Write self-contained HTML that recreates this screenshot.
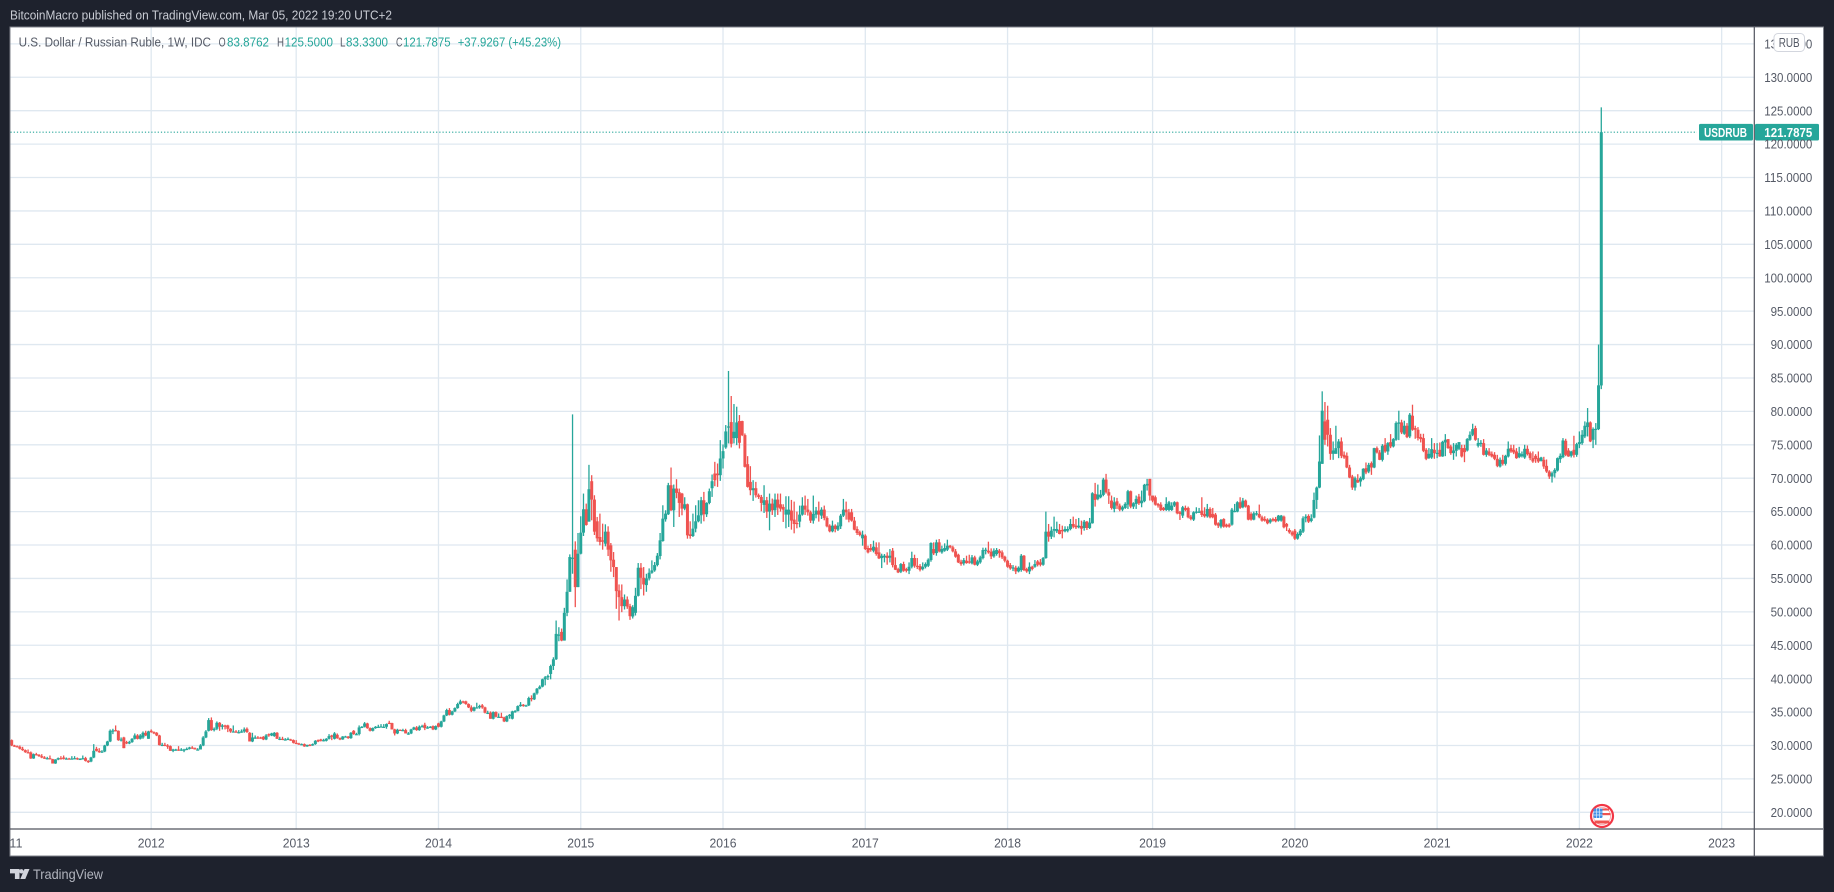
<!DOCTYPE html>
<html lang="en">
<head>
<meta charset="utf-8">
<title>U.S. Dollar / Russian Ruble, 1W</title>
<style>
html,body{margin:0;padding:0;width:1834px;height:892px;overflow:hidden;background:#1e222d}
svg{display:block}
text{font-family:"Liberation Sans",sans-serif}
</style>
</head>
<body>
<svg id="chart" width="1834" height="892" viewBox="0 0 1834 892" xmlns="http://www.w3.org/2000/svg">
  <defs>
    <clipPath id="plot-clip"><rect x="10.5" y="27.5" width="1743.5" height="801"/></clipPath>
    <clipPath id="time-clip"><rect x="10.5" y="830" width="1743.5" height="25"/></clipPath>
  </defs>
  <rect x="0" y="0" width="1834" height="892" fill="#1e222d"/>
  <text x="10" y="19.5" font-size="13" fill="#c9ccd4" textLength="382" lengthAdjust="spacingAndGlyphs">BitcoinMacro published on TradingView.com, Mar 05, 2022 19:20 UTC+2</text>
  <rect x="10" y="27" width="1813.5" height="829" fill="#ffffff" stroke="#7d8089" stroke-width="1"/>
  <g id="grid"></g>
  <g id="candles" clip-path="url(#plot-clip)"></g>
  <g id="last-price"></g>
  <line x1="1754.3" y1="27" x2="1754.3" y2="856" stroke="#50535e" stroke-width="1.2"/>
  <line x1="10" y1="829" x2="1823" y2="829" stroke="#50535e" stroke-width="1.2"/>
  <g id="y-axis"></g>
  <g id="x-axis" clip-path="url(#time-clip)"></g>

  <g font-size="13">
    <text x="18.6" y="46.3" fill="#555a66" textLength="192.4" lengthAdjust="spacingAndGlyphs">U.S. Dollar / Russian Ruble, 1W, IDC</text>
    <text x="218.6" y="46.3" fill="#555a66" textLength="7" lengthAdjust="spacingAndGlyphs">O</text>
    <text x="227" y="46.3" fill="#26a69a" textLength="42" lengthAdjust="spacingAndGlyphs">83.8762</text>
    <text x="277" y="46.3" fill="#555a66" textLength="7" lengthAdjust="spacingAndGlyphs">H</text>
    <text x="284.6" y="46.3" fill="#26a69a" textLength="48.4" lengthAdjust="spacingAndGlyphs">125.5000</text>
    <text x="340" y="46.3" fill="#555a66" textLength="5.5" lengthAdjust="spacingAndGlyphs">L</text>
    <text x="346" y="46.3" fill="#26a69a" textLength="42" lengthAdjust="spacingAndGlyphs">83.3300</text>
    <text x="396" y="46.3" fill="#555a66" textLength="6.5" lengthAdjust="spacingAndGlyphs">C</text>
    <text x="403" y="46.3" fill="#26a69a" textLength="47.6" lengthAdjust="spacingAndGlyphs">121.7875</text>
    <text x="457.7" y="46.3" fill="#26a69a" textLength="103.3" lengthAdjust="spacingAndGlyphs">+37.9267 (+45.23%)</text>
  </g>

  <g>
    <rect x="1774" y="33.5" width="30.5" height="18" rx="4" fill="#ffffff" stroke="#d3d6de" stroke-width="1"/>
    <text x="1789.2" y="47" font-size="12.5" fill="#555a66" text-anchor="middle" textLength="21" lengthAdjust="spacingAndGlyphs">RUB</text>
  </g>

  <g>
    <circle cx="1602" cy="816" r="11" fill="#ffffff" stroke="#f23645" stroke-width="2.2"/>
    <circle cx="1602" cy="816" r="8.6" fill="#ffffff" stroke="#f7a3aa" stroke-width="0.8"/>
    <rect x="1602" y="808.5" width="7" height="2" fill="#ef5350"/>
    <rect x="1602" y="813" width="8.5" height="2.2" fill="#ef5350"/>
    <rect x="1594.5" y="820.5" width="15" height="3" rx="1.4" fill="#ef5350"/>
    <rect x="1593.5" y="808.5" width="9" height="9.5" rx="1.2" fill="#3f8fe6"/>
    <path d="M1596.5 808.5v9.5M1599.5 808.5v9.5M1593.5 812h9M1593.5 815h9" stroke="#d7e8fb" stroke-width="0.7" fill="none"/>
  </g>

  <g>
    <path d="M10 869h9.5v10h-4.6v-5.6h-4.9z" fill="#d1d4dc"/>
    <circle cx="21.4" cy="871.3" r="2.2" fill="#d1d4dc"/>
    <path d="M24.5 869h5l-4.2 10h-5z" fill="#d1d4dc"/>
    <text x="33" y="879" font-size="14" fill="#b2b5be" textLength="70" lengthAdjust="spacingAndGlyphs">TradingView</text>
  </g>
</svg>

<script>
const opens = [
30.8,30,29.9,29.8,29.5,29.3,29,28.95,28.05,28.7,28.6,28.4,28.2,28.05,28.1,27.95,27.3,27.9,28.1,28.2,28,28.05,28,28.05,28.1,27.95,28,28.1,27.7,27.6,28.2,29.5,29.2,29,29.1,30,30.6,32.2,32.3,32.2,30.8,31.2,30.5,30.3,30.5,31,31.5,31,31.2,31.9,31,
32.2,32,31.9,31.5,30.05,30.1,30,29.9,29.2,29.4,29.4,29.3,29.4,29.4,29.5,29.7,29.6,29.4,29.4,30,31.2,32.2,33.8,32.3,32.5,33.4,32.8,33,33,32.5,32.1,32.1,32,32,32.1,32.5,31.9,30.6,31.2,31.2,31.2,31.3,30.9,31.7,31.5,31.4,31.9,31,31,30.9,30.9,30.9,30.8,
30.4,30.3,30.2,30.2,29.85,30.1,30,30.2,30.8,30.9,30.7,30.7,31,31.5,31,31.6,31.1,30.9,31.3,31.35,31.1,32.2,31.7,31.7,32.7,32.8,33.3,32.6,32.2,32.6,32.8,32.8,32.8,32.8,33.4,33.35,32.4,31.8,32.35,32.3,32.3,31.8,31.8,32.4,32.7,32.3,32.8,33.1,32.6,32.7,32.9,32.4,
33.3,32.8,33.6,34.5,35.3,34.6,35.1,35.6,36.2,36.6,36.6,36.2,35.7,35.2,35.7,35.7,36,35.7,34.9,34.9,34,35,34.3,34.3,34.2,33.6,34.4,34,35.1,35.15,35.9,36.1,35.95,36,37.1,36.9,37.8,38.5,38.8,39.9,40.2,40.7,41.9,42.9,46.5,47,45.7,49.85,53,58,59.3,53.7,
58.7,61.85,65.35,63.5,69.55,66.8,63.55,61.2,60.7,60.2,62,59.95,57.8,56.7,53.2,52.2,50.85,51.85,50.85,49.3,49.85,52.4,56.6,55.1,54,55,55.85,56.2,57,58.35,60.6,63.85,64.6,68.95,65.2,68.45,67.9,67.7,65.45,66.1,61.6,61.35,62.45,63.55,64.45,66.7,64.6,66.3,68.5,70.7,70.7,70.45,
72.95,74.6,77.7,78.4,76,76,78.55,78.55,76.45,72.1,69.45,68.2,68.5,67.45,67.2,66,66.7,65,66.2,65.2,66.8,66.1,65.7,64.55,64.55,65.15,63.8,63.3,63.5,64.55,65.9,65.3,64.9,63.65,64.55,65.15,64.4,65.3,64.05,62.9,62.05,62.9,62.3,62.8,64.4,65.3,64.9,64.9,63.65,62.4,61.9,61,
61.4,59.55,59.55,59.15,59.65,58.9,58.05,58.15,58.4,58.1,59.15,57,56.4,56,57.15,56.4,56.15,56.75,58.05,56.9,56.85,56.4,56.75,56.9,57.75,59.4,58.8,60.4,58.9,59.15,59.3,59.9,59.65,59.05,58.55,57.5,57.25,57.65,57.55,57.25,58.15,57.05,57.4,58.05,59.25,59.15,59,58.3,58.65,59.15,58.9,58.25,
57.65,57,56.5,56.6,56.05,56.25,58.4,56.4,56.05,56.75,56.75,57.55,57.4,57.05,58.05,62,61.25,62.15,62.05,62.25,62.25,62.05,62.15,62.4,63.15,62.9,62.65,62.85,62.55,63.5,62.55,63.25,67.65,66.9,67.15,67.5,69.8,67.9,66.65,65.4,66.55,65.9,65.3,65.55,66.05,68.05,65.75,66.15,67.25,66.25,66.55,68.9,69.9,
67.4,67.15,66.15,66.05,65.55,65.25,65.25,65.25,65.9,66.4,64.9,64.4,65.55,65.55,64.25,63.8,64.9,65,65.15,64.65,64.3,65.4,64.65,64.55,63.25,62.75,63.9,63.05,63.05,63.05,65,65,66.4,65.65,66.65,65.9,64.65,63.8,64.6,64.65,64.15,63.9,63.8,63.4,63.9,63.9,63.65,63.65,64.25,63.15,62.25,61.9,
62.15,60.95,61.5,62,64,64.35,63.6,64.1,66.75,68.6,72.15,78.5,78.75,76.5,73.65,73.65,74.5,75.5,73.5,73.35,71.6,70.25,68.6,69.75,69.5,69.85,71.5,71,72.25,71.6,74.5,73.85,72.75,75,74,75.4,74.75,75.75,78.15,78.35,76.65,77.85,76.25,79.35,77.5,77.25,76.15,76,74.25,73,73.1,74.25,
73.75,74.25,73.25,75.35,75.85,74.75,73.75,74.1,74.4,74.5,74.5,74.15,75.75,76.5,77.5,74.85,75.25,75.25,73.5,74,73.65,73.5,72.9,71.75,72.75,72.15,73.25,74.5,74.25,74,73.15,73.3,73.1,74.4,73.75,73,73.35,73,72.6,72.75,71.85,71,70.25,70.75,71.15,72.85,73.15,75.6,74.15,73.35,74.25,73.5,
75.1,75.25,76.25,77.65,78.35,75.75,77.35,77.35,83.88];

const highs = [
30.9,30.1,30,30,29.8,29.4,29.4,29.1,28.8,28.9,28.7,28.7,28.4,28.3,28.5,28,27.95,28.2,28.4,28.5,28.2,28.15,28.4,28.4,28.2,28.1,28.5,28.3,27.8,28.3,30.2,29.8,29.6,29.3,30.1,30.7,32.4,32.5,33,32.25,31.2,31.3,30.7,30.7,31.1,31.8,31.7,31.7,32.1,32.2,32.2,
32.4,32.1,32,31.6,30.4,30.4,30.2,30,29.5,29.5,29.9,29.6,29.5,29.7,29.8,29.9,29.7,29.6,30.2,31.4,32.3,34.1,34.2,32.7,33.6,33.5,33.2,33.1,33.1,32.6,33,32.3,32.3,32.4,32.7,32.7,32,31.9,31.5,31.4,31.3,31.4,31.7,31.8,31.9,32,32,31.3,31.3,31.1,31.2,31,30.9,
30.8,30.4,30.3,30.3,30.1,30.2,30.3,30.8,30.9,31,31,31.1,31.7,31.6,32,31.8,31.2,31.4,31.45,31.4,32,32.3,31.9,33,32.9,33.5,33.4,32.7,32.7,32.9,33.1,33.2,33.2,33.3,33.7,33.4,32.5,32.5,32.4,32.5,32.5,32,32.5,32.8,32.9,33,33.1,33.4,32.9,32.9,33,33,
33.4,33.7,34.6,35.5,35.6,35.2,35.7,36.4,36.85,36.7,36.7,36.3,36,35.8,36.4,36.1,36.2,35.8,35.2,35.1,35.1,35.1,34.8,34.9,34.3,34.5,34.7,35.2,35.3,36,36.5,36.2,36.1,37.3,37.5,37.9,38.6,39,40,40.4,40.6,42.1,43.2,48.7,47.7,47.5,50.6,54.85,58.6,79.55,60.55,61.8,
64.3,67.7,66.2,72,70.45,67.45,64.2,64.7,63.2,63.1,62.8,60.3,58.95,56.7,54.1,54.1,52.6,52.3,51.2,51,53.6,57.3,57.3,56.7,55.7,56.5,57.7,57.45,58.8,61.8,65.95,65.2,69.3,71.6,69.05,69.85,68.45,67.8,67.15,66.2,63.55,64.7,65.95,66.7,67.2,67.95,66.4,68.45,70.55,72.45,72.2,75.7,
75.05,77.95,86.05,82.3,81.1,80.7,79.45,78.6,76.7,73.3,71.8,69.7,69.45,67.7,67.5,68.95,67.2,67.7,66.95,67.7,67.7,67.7,66.1,67.3,67.3,66.75,66.5,65,65.9,67.15,67.4,66.9,65.15,67.4,65.7,66.5,65.65,65.9,64.3,63.1,63.65,63.1,63.4,64.65,66.9,66.5,65.4,65.4,64.2,62.8,62.15,62.15,
61.6,59.9,60.15,60.65,60.4,60.4,58.7,58.65,58.9,59.4,59.55,58.15,56.6,57.3,57.5,56.6,57.4,59,58.55,58.05,57.15,57.4,57.4,58,60.4,60.4,60.8,60.9,59.9,60.25,60.8,60,59.9,59.4,58.7,57.8,58.05,58.4,58.55,58.5,58.4,57.8,58.4,59.6,59.6,60.5,59.5,59.5,59.55,59.4,59.2,58.4,
57.8,57.3,57,56.9,56.8,58.65,58.5,56.6,57.4,56.9,57.75,57.75,57.9,58.2,65,63.15,62.75,64.25,63.5,63.15,62.9,62.8,62.8,63.9,64.25,63.9,64.05,63.65,63.75,63.6,64.05,67.9,69.3,69.05,68.25,70.05,70.65,68.4,67.4,67.15,67.05,66.2,65.9,66.4,68.25,68.15,66.4,67.4,67.65,68.15,69.15,69.9,69.9,
67.4,67.4,66.3,66.4,65.7,67.15,66.6,66.4,66.55,66.5,65.1,65.85,65.9,65.75,64.5,65.05,65.65,65.55,67.15,65.65,66.15,65.65,65.55,64.8,63.4,63.9,64,63.2,63.25,65.55,66.15,66.55,67.15,67.05,66.8,66,64.9,65,65.1,66.05,64.4,64.3,64,64,64.1,64.2,64.5,64.5,64.4,63.3,62.5,62.15,
62.4,61.9,62.4,64.3,64.6,64.6,64.6,67.85,68.75,76.4,83,81.4,80.85,77.5,75.5,77.85,75.85,76.1,74,73.85,72,70.5,70.25,70.6,70.25,71.5,72.35,72.3,72.5,74.55,74.75,74.2,75.1,76,75.4,76.6,76,78.5,80.1,78.75,78.6,78.25,79.75,81,77.85,77.65,76.65,76.65,74.5,74.5,76,75.25,
75.25,75.35,75.6,76.6,75.85,75,75.25,75.25,75.4,75,75,76,77,78.15,77.85,76,75.7,75.85,74.5,74.5,74,73.9,73.5,73.1,73.5,73.5,75.5,75,75,74.5,74.7,74,75,74.9,74,74,73.6,74,73.2,73.2,72.8,71.2,71,71.5,73.1,73.7,76,75.9,74.5,74.1,76.35,75.3,
77,77.2,78.5,80.5,78.5,77.6,78.25,90,125.5];

const lows = [
29.9,29.8,29.7,29.4,29.2,28.9,28.8,28,28,28.5,28.3,28.1,28,27.9,27.9,27.3,27.25,27.8,27.9,27.9,27.9,27.9,27.9,27.95,27.85,27.85,27.9,27.6,27.4,27.5,28.1,29.1,28.9,28.9,29,29.9,30.5,31.7,32.1,30.7,30.6,29.6,30.2,30.2,30.4,30.9,30.9,30.9,31,31.4,31,
31.9,31.7,31.4,30,29.9,29.9,29.5,29.2,29,29.2,29.2,29.2,29,29.3,29.4,29.5,29.4,29.3,29.4,29.9,31.1,32.1,32.2,32.1,32.3,32.2,32.4,32.4,32,31.9,32,31.9,31.8,31.9,31.9,31.9,30.6,30.5,31,31,31,30.8,30.8,31.3,31.4,31.3,31,30.8,30.8,30.8,30.8,30.7,30.3,
30.2,30.1,30.1,29.8,29.8,29.9,29.95,30.1,30.5,30.6,30.6,30.6,30.9,30.8,30.9,31,30.8,30.85,31.25,31,31,31.6,31.6,31.5,32.6,32.7,32.5,32.1,32.1,32.5,32.7,32.7,32.7,32.5,33.2,32.4,31.5,31.7,32.2,32.2,31.8,31.6,31.7,32.3,32.2,32.2,32.7,32.3,32.5,32.6,32.3,32.3,
32.7,32.7,33.5,34.4,34.5,34.5,35,35.5,36.1,36.3,36.1,35.6,35,35.1,35.6,35.5,35.5,34.8,34.7,34,33.9,34.2,34.2,34.1,33.5,33.5,34,33.9,34.9,35.1,35.8,35.8,35.8,35.9,36.6,36.8,37.6,38.4,38.7,39,39.8,39.9,41.3,42.8,45.6,45.6,45.7,49.35,53,55.7,50.7,53.7,
58.6,61.35,62.9,63.5,63.7,61.5,60.5,59.95,59.3,59.8,58.35,56,55.2,50.45,48.7,49.95,50.35,50.45,48.8,49,49.45,52.3,53.4,52.45,53,54.7,55.7,56,56.8,57.85,60.5,63.5,64.5,65.1,62.7,67,64.2,64.45,65.2,60.95,60.95,61.2,61.9,63.4,63.2,63.55,64.2,66.1,67.2,68.8,68.7,69.6,
71.45,74.4,75.2,74.6,75.2,74.95,74.45,76.3,71.6,68.6,67.45,66.6,67.1,66.9,65.05,64.8,64.05,62.2,64.5,64.2,64.5,65,63.45,62.5,62.7,62.3,61.75,62.5,62.65,64.4,64.5,64.4,63.3,63.2,64,63.5,63.9,63.7,62.65,61.9,61.9,61.9,62.1,62.4,64.2,63.8,63.4,63.5,62.2,61.5,61.3,59.9,
59.25,58.75,59,58.9,58.4,57.9,56.55,57.4,57.05,57.4,56.65,56.25,55.8,55.8,56,55.9,55.65,56.5,56.6,56.4,56.05,56.2,56.5,56.7,57.5,58.5,58.4,58.9,58.7,59,59.1,59.5,58.9,58.1,57.3,56.9,56.95,57.2,57.2,57.1,56.95,56.85,57.2,57.85,58.6,58.7,57.9,58.1,58.4,58.1,57.9,57.4,
56.6,56.3,56.1,55.65,55.9,56,56.1,55.85,55.65,56.2,56.6,56.8,56.8,56.9,57.95,60.5,60.9,61.15,61.8,61.6,61,61.9,61.9,62.2,62.5,62.4,62.5,61.55,62.15,62.25,62.4,63.2,65.75,66.7,67,67.3,67.7,66.15,65.3,64.9,65.4,65.05,65.05,65.4,65.4,65.5,65.4,65.4,66,65.65,66.4,68.15,66.65,
66.4,65.9,65.6,65.1,65.1,65.1,65.05,65.1,65.7,64.6,63.75,64.05,65.05,64,63.7,63.6,64.7,64.8,64.2,64.1,64.1,64,64,62.9,62.55,62.5,62.6,62.6,62.6,62.9,64.9,64.9,65.4,65.5,65.6,63.7,63.65,63.7,64.4,64,63.5,63.5,63.1,63.2,63.5,63.4,63.5,63.5,62.5,62.1,61.7,61.3,
60.75,60.8,61.3,61.8,63.4,63.3,63.4,64,65.4,68.5,72.15,75,74.75,72.75,72.75,73.65,73,73,72.9,71.5,70,68.25,68.15,69.3,68.75,69.7,70.6,70.75,70.5,71.5,73.7,72.7,72.5,73.8,73.5,74.5,74.6,75.6,75.7,76.6,76.5,76,76,77.1,75.9,75.65,75.35,73.9,72.7,72.9,72.9,72.9,
73,73.2,73.2,73.3,74.4,73.5,72.75,73.25,74.2,73.1,72.4,74,75.6,76.3,75.6,74.6,74.7,73.4,73.2,73.3,73.1,72.7,71.65,71.6,71.9,71.9,73.1,73.8,73.6,72.9,73,73.1,72.9,73.4,72.7,72.3,72.3,72.3,72.5,71.4,70.8,69.9,69.35,70.1,71,72.3,73,73.3,73.2,73.1,73.1,73.2,
74.5,75,76,76.25,75.4,74.5,75,77.2,83.33];

const closes = [
30,29.9,29.8,29.5,29.3,29,28.9,28.05,28.7,28.6,28.4,28.2,28.05,28.1,27.95,27.3,27.9,28.1,28,28,28.05,28,28.05,28.1,27.95,28,28.1,27.7,27.5,28.2,29.2,29.2,29,29.1,30,30.6,32.2,32.25,32.2,30.8,30.9,29.6,30.3,30.5,31,31.5,31,31.5,31.9,31.5,32.1,
32,31.9,31.5,30.05,30.1,30,29.9,29.2,29.4,29.4,29.3,29.4,29.4,29.5,29.7,29.6,29.4,29.4,30,31.2,32.1,33.8,32.3,32.5,33.4,32.8,33,32.8,32.5,32.1,32.1,32,32,32.1,32.4,32,30.6,31.2,31.2,31.1,31.1,30.9,31.5,31.5,31.8,31.9,31,31,30.9,30.9,31,30.8,30.4,
30.3,30.2,30.2,29.85,30.1,30,30.2,30.7,30.6,30.7,30.8,31,31.4,31.3,31.8,31.1,30.9,31.35,31.35,31.1,31.9,31.7,31.7,32.7,32.8,33.3,32.6,32.2,32.6,32.8,32.8,32.85,32.8,33.2,33.35,32.4,31.8,32.35,32.3,32.3,31.8,31.8,32.4,32.7,32.3,32.8,32.9,32.6,32.7,32.8,32.4,32.9,
32.8,33.6,34.5,35.3,34.6,35.1,35.6,36.2,36.6,36.45,36.2,35.7,35.2,35.7,35.7,35.9,35.7,34.9,34.9,34,35,34.3,34.3,34.2,33.6,34.4,34.6,35.1,35.15,35.9,36.1,35.95,36,37.1,36.95,37.8,38.5,38.8,39.9,40.2,40.4,41.9,42.9,46.7,46.6,45.7,49.85,53,58.2,58.1,53.7,58.7,
61.85,65.35,63,68.35,66.8,62,61,60.45,60.5,62,59.3,57.7,56.7,53.1,52.2,50.85,51.85,50.8,49.35,50.7,52.4,56.6,55.1,54.1,55,55.85,56.2,57,58.4,60.7,63.95,64.7,68.95,65.2,68.45,67.8,66.3,65.45,66.1,61.45,61.35,62.45,63.55,64.45,66.7,64.6,66.3,68.05,69.55,69.7,70.45,72.95,
74.05,77,77.75,75.15,76.95,78.35,75.3,76.45,71.7,68.7,68.2,68.5,67.45,67.2,66.3,66.7,65,66.2,65.2,66.8,65.6,65.45,65.3,65.3,65.3,63.65,63.15,63.15,64.55,65.9,65.3,64.9,63.65,64.65,65.15,64.55,65.3,64.05,62.8,62.05,62.9,62.4,62.9,64.4,65.3,64.9,63.8,63.65,62.3,61.8,61.5,61.55,
59.4,58.9,59.25,59.75,58.65,58,58.4,58.4,58.05,58.4,57,56.3,55.9,57.15,56.15,56.15,56.75,58.05,56.9,56.75,56.3,56.75,57.15,57.8,60.3,58.75,60.4,59.05,59.4,59.55,59.9,59.65,59.05,58.25,57.4,57.15,57.75,57.3,57.4,58.15,57.05,57.55,58.15,59.25,59.3,58.9,58.3,59.15,59.25,58.8,58.15,57.65,
56.75,56.5,56.65,56.05,56.6,58.4,56.25,56.05,56.75,56.4,57.15,57.05,57.05,58.05,62,61.25,62.15,62.4,62.4,61.65,62.05,62.4,62.4,63.15,62.75,62.65,62.9,62.45,63.5,62.55,63.35,67.75,66.75,67.55,67.55,69.8,67.9,67.4,65.55,66.4,65.9,65.3,65.65,66.15,68.05,65.75,66.25,66.9,66.25,66.65,69,69.15,67.4,
66.65,66.05,65.9,65.25,65.25,66.15,66.4,65.9,66.4,64.75,64.65,65.65,65.25,64.15,63.9,64.9,65,65,64.5,64.3,65.4,64.15,64.15,63.05,62.9,63.75,62.75,62.75,62.75,65.3,65.1,66.4,65.55,66.65,65.75,63.8,63.8,64.75,64.75,64.15,63.65,63.65,63.25,63.8,63.65,63.55,64.4,64.4,62.65,62.75,61.9,61.55,
60.95,61.65,62.15,64,64.25,63.5,64,66.75,68.6,72.5,80.1,75.75,76.5,73.65,74.15,74.5,75.5,73.35,73.1,71.6,70.1,68.6,70,69.35,70,71.4,70.85,72,71.6,74.5,73.85,72.75,74.85,74,75.25,74.75,75.85,78.25,78.35,76.85,77.85,76.15,79.5,77.25,77.25,76,75.85,74.1,72.9,73.65,74.35,73.75,
73.8,73.25,75.45,75.75,74.5,73.75,74.15,75,75.4,73.25,73.9,75.85,76.5,77.35,75.75,75.25,75.3,73.5,74.15,73.5,73.25,72.9,71.85,72.75,72.15,73.35,74.4,74,73.85,73,73.75,73.6,74.4,73.6,73,72.5,72.85,72.5,73.1,71.75,71,70.25,70.75,71.25,73,73.35,75.65,73.5,73.25,74,73.5,75.1,
75.4,76.5,77.85,78.35,75.5,77.35,77.4,83.9,121.7875];

const priceTicks = [135,130,125,120,115,110,105,100,95,90,85,80,75,70,65,60,55,50,45,40,35,30,25,20];
const yearLabels = ['2011','2012','2013','2014','2015','2016','2017','2018','2019','2020','2021','2022','2023'];
const yearFirstMondays = ['2011-01-03','2012-01-02','2013-01-07','2014-01-06','2015-01-05','2016-01-04','2017-01-02','2018-01-01','2019-01-07','2020-01-06','2021-01-04','2022-01-03','2023-01-02'];
const firstBarDate = '2011-01-10';
const symbolName = 'USDRUB';
const lastPriceLabel = '121.7875';

const NS = 'http://www.w3.org/2000/svg';
const UP = '#26a69a';
const DOWN = '#ef5350';
const GRID = '#dfe8f0';
const PLOT_LEFT = 10.5, PLOT_RIGHT = 1754;
const BAR_STEP = 2.736, BAR_ZERO_X = 11.66;
const PRICE_AT_20_Y = 812.3, PX_PER_UNIT = 6.682;

function yScale(v) { return PRICE_AT_20_Y - (v - 20) * PX_PER_UNIT; }
function xScale(i) { return BAR_ZERO_X + BAR_STEP * i; }
function weekIndex(d) { return (Date.parse(d) - Date.parse(firstBarDate)) / (7 * 864e5); }
function make(tag, attrs) {
  const el = document.createElementNS(NS, tag);
  for (const k in attrs) el.setAttribute(k, attrs[k]);
  return el;
}

const gridG = document.getElementById('grid');
const yG = document.getElementById('y-axis');
const xG = document.getElementById('x-axis');
const candleG = document.getElementById('candles');
const lastG = document.getElementById('last-price');

priceTicks.forEach(function (p) {
  const y = yScale(p);
  const line = make('line', {x1: PLOT_LEFT, x2: PLOT_RIGHT, y1: y, y2: y, stroke: GRID, 'stroke-width': 1.3});
  
  
  gridG.appendChild(line);
  const label = p.toFixed(4);
  const t = make('text', {x: 1812.3, y: y + 4.6, 'font-size': 13, fill: '#555a66', 'text-anchor': 'end', textLength: (label.length - 1) * 6.35 + 3.6, lengthAdjust: 'spacingAndGlyphs'});
  
  
  t.textContent = label;
  yG.appendChild(t);
});

yearLabels.forEach(function (label, n) {
  const x = xScale(weekIndex(yearFirstMondays[n]));
  if (x > PLOT_LEFT) {
    const line = make('line', {x1: x, x2: x, y1: 27.5, y2: 829, stroke: GRID, 'stroke-width': 1.3});
    
    
    gridG.appendChild(line);
  }
  const t = make('text', {x: x, y: 847.3, 'font-size': 13, fill: '#555a66', 'text-anchor': 'middle', textLength: 27, lengthAdjust: 'spacingAndGlyphs'});
  
  
  t.textContent = label;
  xG.appendChild(t);
});

closes.forEach(function (c, i) {
  const o = opens[i], h = highs[i], l = lows[i];
  const col = c >= o ? UP : DOWN;
  const x = xScale(i);
  const wick = make('rect', {x: x - 0.65, y: yScale(h), width: 1.3, height: Math.max(0.8, yScale(l) - yScale(h)), fill: col});
  
  
  candleG.appendChild(wick);
  const top = yScale(Math.max(o, c));
  const body = make('rect', {x: x - 1.5, y: top, width: 3, height: Math.max(1.2, yScale(Math.min(o, c)) - top), fill: col});
  
  
  candleG.appendChild(body);
});

const lastY = yScale(closes[closes.length - 1]);
const dotted = make('line', {x1: PLOT_LEFT, x2: 1697, y1: lastY, y2: lastY, stroke: UP, 'stroke-width': 1.1, 'stroke-dasharray': '1.2 2'});


lastG.appendChild(dotted);

function addTag(name, x, w, label, tw, cx) {
  const box = make('rect', {x: x, y: lastY - 8.3, width: w, height: 16.6, rx: 1.5, fill: UP});
  
  
  lastG.appendChild(box);
  const t = make('text', {x: cx, y: lastY + 4.6, 'font-size': 13, 'font-weight': 'bold', fill: '#ffffff', 'text-anchor': 'middle', textLength: tw, lengthAdjust: 'spacingAndGlyphs'});
  
  
  t.textContent = label;
  lastG.appendChild(t);
}
addTag('symbol-tag', 1699, 54, symbolName, 43, 1725.5);
addTag('last-price-tag', 1755, 64, lastPriceLabel, 48, 1788.3);
</script>
</body>
</html>
